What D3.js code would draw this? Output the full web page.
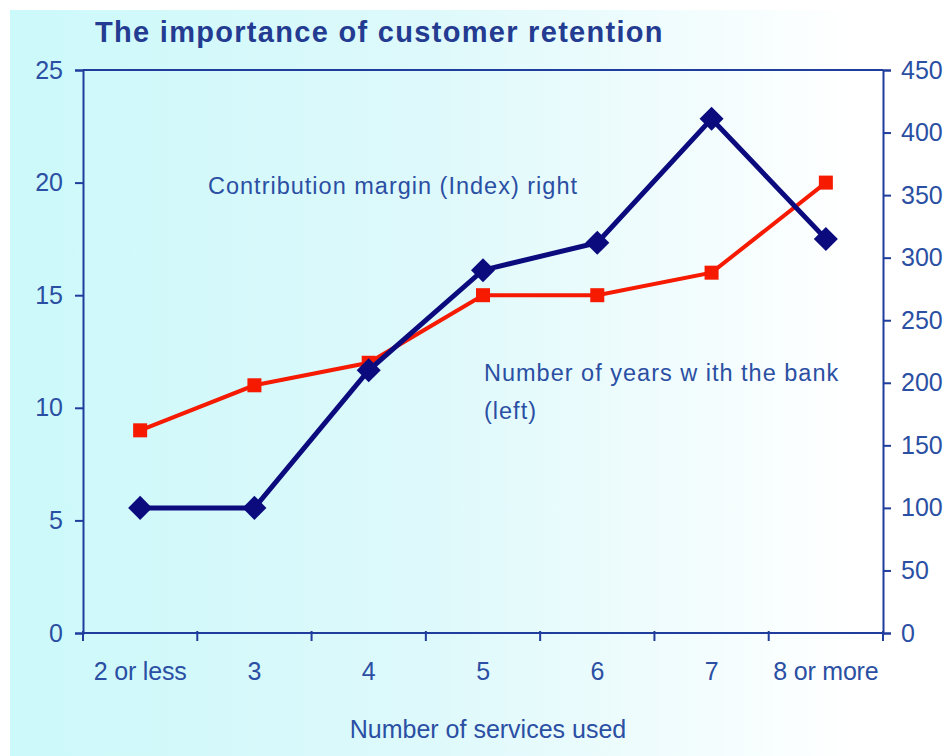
<!DOCTYPE html>
<html>
<head>
<meta charset="utf-8">
<script src="https://cdn.jsdelivr.net/npm/d3@7"></script>
<style>
  body { margin: 0; background: #fff; }
  text { font-family: "Liberation Sans", Arial, sans-serif; }
</style>
</head>
<body>
<div id="chart"></div>
<script>
// categories on the x axis
var categories = ["2 or less", "3", "4", "5", "6", "7", "8 or more"];
// number of years with the bank (left axis)
var yearsWithBank = [9, 11, 12, 15, 15, 16, 20];
// contribution margin index (right axis)
var marginIndex = [100, 100, 210, 290, 312, 411, 315];
var leftTicks = [0, 5, 10, 15, 20, 25];
var rightTicks = [0, 50, 100, 150, 200, 250, 300, 350, 400, 450];

var W = 950, H = 756;
var margin = { top: 70, right: 67, bottom: 123, left: 83 },
  width = W - margin.left - margin.right,
  height = H - margin.top - margin.bottom;

var axisColor = "#1f3d9c", textColor = "#2a4fa3";

var svg = d3.select("#chart").append("svg")
  .attr("width", W)
  .attr("height", H);

// cyan-to-white background
var grad = svg.append("defs").append("linearGradient")
  .attr("id", "bg").attr("x1", "0%").attr("x2", "100%").attr("y1", "0%").attr("y2", "0%");
grad.append("stop").attr("offset", "0%").attr("stop-color", "#ccf9fa");
grad.append("stop").attr("offset", "45%").attr("stop-color", "#def9fb");
grad.append("stop").attr("offset", "90%").attr("stop-color", "#ffffff");
svg.append("rect")
  .attr("x", 10).attr("y", 10)
  .attr("width", W - 10).attr("height", H - 10)
  .attr("fill", "url(#bg)");

// title
svg.append("text")
  .attr("x", 95).attr("y", 42)
  .attr("fill", "#233b90")
  .style("font-size", "29px")
  .style("font-weight", "bold")
  .style("letter-spacing", "1.3px")
  .text("The importance of customer retention");

var g = svg.append("g")
  .attr("transform", "translate(" + margin.left + "," + margin.top + ")");

var x = d3.scaleBand().domain(categories).range([0, width]);
var yLeft = d3.scaleLinear().domain([0, 25]).range([height, 0]);
var yRight = d3.scaleLinear().domain([0, 450]).range([height, 0]);

// top frame line
g.append("line")
  .attr("x1", 0).attr("x2", width)
  .attr("y1", 0).attr("y2", 0)
  .attr("stroke", axisColor).attr("stroke-width", 2);

// x axis: ticks on band edges
var xAxis = g.append("g").attr("transform", "translate(0," + height + ")");
xAxis.append("line")
  .attr("x1", 0).attr("x2", width)
  .attr("stroke", axisColor).attr("stroke-width", 2);
xAxis.selectAll(".xt")
  .data(categories.concat(["end"]))
  .enter().append("line")
  .attr("x1", (d, i) => i * x.bandwidth())
  .attr("x2", (d, i) => i * x.bandwidth())
  .attr("y1", -2).attr("y2", 8)
  .attr("stroke", axisColor).attr("stroke-width", 2);
xAxis.selectAll(".xl")
  .data(categories)
  .enter().append("text")
  .attr("x", d => x(d) + x.bandwidth() / 2)
  .attr("y", 47)
  .attr("text-anchor", "middle")
  .attr("fill", textColor)
  .style("font-size", "25px")
  .style("letter-spacing", "-0.2px")
  .text(d => d);

// left axis
var la = g.append("g").call(d3.axisLeft(yLeft).tickValues(leftTicks).tickSize(8).tickPadding(12));
la.select(".domain").attr("stroke", axisColor).attr("stroke-width", 2);
la.selectAll(".tick line").attr("stroke", axisColor).attr("stroke-width", 2);
la.selectAll(".tick text").attr("fill", textColor).style("font-size", "25px")
  .style("font-family", "'Liberation Sans', Arial, sans-serif");

// right axis
var ra = g.append("g")
  .attr("transform", "translate(" + width + ",0)")
  .call(d3.axisRight(yRight).tickValues(rightTicks).tickSize(8).tickPadding(10));
ra.select(".domain").attr("stroke", axisColor).attr("stroke-width", 2);
ra.selectAll(".tick line").attr("stroke", axisColor).attr("stroke-width", 2);
ra.selectAll(".tick text").attr("fill", textColor).style("font-size", "25px")
  .style("font-family", "'Liberation Sans', Arial, sans-serif");

var cx = (d, i) => x(categories[i]) + x.bandwidth() / 2;

// red line: years with the bank (left)
g.append("path")
  .datum(yearsWithBank)
  .attr("fill", "none")
  .attr("stroke", "#f51a00")
  .attr("stroke-width", 4)
  .attr("d", d3.line().x(cx).y(d => yLeft(d)));
g.selectAll(".sq")
  .data(yearsWithBank)
  .enter().append("rect")
  .attr("x", (d, i) => cx(d, i) - 7)
  .attr("y", d => yLeft(d) - 7)
  .attr("width", 14).attr("height", 14)
  .attr("fill", "#f51a00");

// navy line: contribution margin index (right)
g.append("path")
  .datum(marginIndex)
  .attr("fill", "none")
  .attr("stroke", "#0b0b7e")
  .attr("stroke-width", 5)
  .attr("d", d3.line().x(cx).y(d => yRight(d)));
g.selectAll(".dm")
  .data(marginIndex)
  .enter().append("rect")
  .attr("x", -8.5).attr("y", -8.5)
  .attr("width", 17).attr("height", 17)
  .attr("fill", "#0b0b7e")
  .attr("transform", (d, i) => "translate(" + cx(d, i) + "," + yRight(d) + ") rotate(45)");

// annotations
var note = { size: "23.5px", spacing: "1px" };
svg.append("text")
  .attr("x", 208).attr("y", 194)
  .attr("fill", textColor)
  .style("font-size", note.size).style("letter-spacing", note.spacing)
  .text("Contribution margin (Index) right");
svg.append("text")
  .attr("x", 484).attr("y", 381)
  .attr("fill", textColor)
  .style("font-size", note.size).style("letter-spacing", note.spacing)
  .text("Number of years w ith the bank");
svg.append("text")
  .attr("x", 484).attr("y", 419)
  .attr("fill", textColor)
  .style("font-size", note.size).style("letter-spacing", note.spacing)
  .text("(left)");

// x axis title
svg.append("text")
  .attr("x", 488).attr("y", 738)
  .attr("text-anchor", "middle")
  .attr("fill", textColor)
  .style("font-size", "25px")
  .text("Number of services used");
</script>
</body>
</html>
